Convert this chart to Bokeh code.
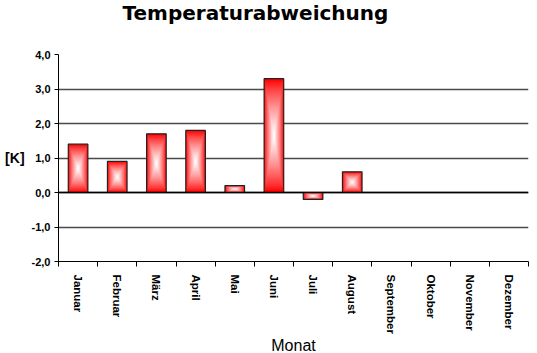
import numpy as np
from bokeh.plotting import figure
from bokeh.models import Range1d, FixedTicker, Span, LinearAxis
from bokeh.embed import file_html
from bokeh.resources import INLINE

months = ["Januar", "Februar", "März", "April", "Mai", "Juni", "Juli", "August",
          "September", "Oktober", "November", "Dezember"]
abweichung = [1.4, 0.9, 1.7, 1.8, 0.2, 3.3, -0.2, 0.6, None, None, None, None]
y_ticks = [-2, -1, 0, 1, 2, 3, 4]
y_tick_labels = ["-2,0", "-1,0", "0,0", "1,0", "2,0", "3,0", "4,0"]
title_text = "Temperaturabweichung"

p = figure(frame_width=470, frame_height=207, x_range=Range1d(0, 12), y_range=Range1d(-2, 4),
           output_backend="svg", toolbar_location=None,
           min_border_left=58, min_border_right=9, min_border_top=0, min_border_bottom=0)
p.outline_line_color = None
p.background_fill_color = "white"

# title
p.title.text = title_text
p.title.align = "left"
p.title.offset = 64
p.title.vertical_align = "top"
p.title.standoff = 0
p.title.text_font = "DejaVu Sans"
p.title.text_font_size = "20px"
p.title.text_font_style = "bold"
p.title.text_color = "black"

# empty spacer between title and frame (an invisible tick gives it its height)
spacer = LinearAxis(ticker=FixedTicker(ticks=[6]), major_tick_in=0, major_tick_out=28,
                    minor_tick_in=0, minor_tick_out=0,
                    axis_line_color=None, major_tick_line_color=None,
                    minor_tick_line_color=None, major_label_standoff=0,
                    major_label_overrides={6: ""},
                    major_label_text_font_size="1px")
p.add_layout(spacer, "above")

# grid
p.xgrid.visible = False
p.ygrid.ticker = FixedTicker(ticks=y_ticks)
p.ygrid.grid_line_color = "#4a4a4a"
p.ygrid.grid_line_width = 1.3

# y axis
p.yaxis.ticker = FixedTicker(ticks=y_ticks)
p.yaxis.major_label_overrides = {float(t): l for t, l in zip(y_ticks, y_tick_labels)}
p.yaxis.axis_label = "[K]"
p.yaxis.axis_label_orientation = "horizontal"
p.yaxis.axis_label_text_font = "Liberation Sans"
p.yaxis.axis_label_text_font_style = "bold"
p.yaxis.axis_label_text_font_size = "14px"
p.yaxis.axis_label_text_color = "black"
p.yaxis.axis_label_standoff = 4
p.yaxis.major_label_text_font = "Liberation Sans"
p.yaxis.major_label_text_font_style = "bold"
p.yaxis.major_label_text_font_size = "11px"
p.yaxis.major_label_text_color = "black"
p.yaxis.major_label_standoff = 4
p.yaxis.major_tick_in = 0
p.yaxis.major_tick_out = 4
p.yaxis.minor_tick_line_color = None
p.yaxis.axis_line_color = "black"
p.yaxis.major_tick_line_color = "black"

# x axis (the bottom one)
xax = p.below[0]
centers = [i + 0.5 for i in range(len(months))]
bounds = [float(i) for i in range(len(months) + 1)]
xax.ticker = FixedTicker(ticks=centers, minor_ticks=bounds)
xax.major_label_overrides = {c: m for c, m in zip(centers, months)}
xax.major_label_orientation = "vertical"
xax.major_label_text_font = "Liberation Sans"
xax.major_label_text_font_style = "bold"
xax.major_label_text_font_size = "11.5px"
xax.major_label_text_color = "black"
xax.major_label_standoff = 8
xax.major_tick_in = 0
xax.major_tick_out = 0
xax.minor_tick_in = 0
xax.minor_tick_out = 5
xax.minor_tick_line_color = "black"
xax.axis_line_color = "black"
xax.axis_label = "Monat"
xax.axis_label_text_font = "Liberation Sans"
xax.axis_label_text_font_style = "normal"
xax.axis_label_text_font_size = "16px"
xax.axis_label_text_color = "black"
xax.axis_label_standoff = 0

# zero line
p.add_layout(Span(location=0, dimension="width", line_color="black", line_width=1.5))

# bars with a red->white gradient made of nested layers
xs = np.array([c for c, v in zip(centers, abweichung) if v is not None])
vs = np.array([v for v in abweichung if v is not None])
bw = 0.5
mid = vs / 2.0
half = np.abs(vs) / 2.0
N = 26
for k in range(N):
    f = 1.0 - k / N
    t = (k / (N - 1)) ** 0.8
    g = int(round(255 * t))
    color = "#%02x%02x%02x" % (255, g, g)
    p.quad(left=xs - bw * f / 2, right=xs + bw * f / 2,
           bottom=mid - half * f, top=mid + half * f,
           fill_color=color, line_color=None)
p.quad(left=xs - bw / 2, right=xs + bw / 2, bottom=np.minimum(vs, 0), top=np.maximum(vs, 0),
       fill_color=None, line_color="#222222", line_width=1.2)

open("out.html", "w").write(file_html(p, INLINE))
